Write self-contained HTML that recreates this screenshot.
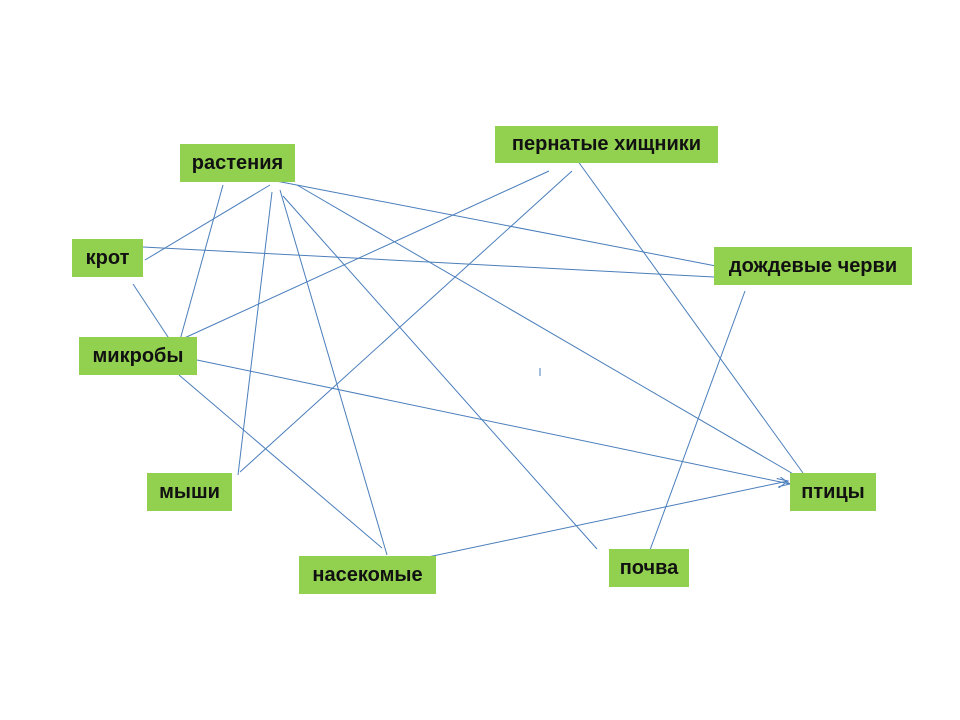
<!DOCTYPE html>
<html><head><meta charset="utf-8"><style>
body{margin:0;background:#fff;width:960px;height:720px;position:relative;overflow:hidden;font-family:"Liberation Sans","DejaVu Sans",sans-serif}
.b{position:absolute;background:#92d050;font-weight:bold;font-size:20px;color:#111;display:flex;align-items:center;justify-content:center;white-space:nowrap}
svg{position:absolute;left:0;top:0}
</style></head><body>
<svg width="960" height="720"><defs><marker id="a" markerWidth="12" markerHeight="10" refX="11" refY="5" orient="auto" markerUnits="userSpaceOnUse"><path d="M0,0 L11,5 L0,10" fill="none" stroke="#4a7ebb" stroke-width="1"/></marker></defs>
<g stroke="#4a7ebb" stroke-width="1" fill="none">
<line x1="276" y1="181" x2="716" y2="266"/>
<line x1="143" y1="247" x2="714" y2="277"/>
<line x1="270" y1="185" x2="145" y2="260"/>
<line x1="223" y1="185" x2="180" y2="340"/>
<line x1="272" y1="192" x2="238" y2="475"/>
<line x1="280" y1="190" x2="387" y2="555"/>
<line x1="283" y1="196" x2="597" y2="549"/>
<line x1="297" y1="185" x2="795" y2="475"/>
<line x1="549" y1="171" x2="180" y2="340"/>
<line x1="572" y1="171" x2="240" y2="472"/>
<line x1="572" y1="153" x2="803" y2="473"/>
<line x1="133" y1="284" x2="170" y2="340"/>
<line x1="197" y1="360" x2="790" y2="484" marker-end="url(#a)"/>
<line x1="179" y1="375" x2="382" y2="548"/>
<line x1="428" y1="557" x2="788" y2="481" marker-end="url(#a)"/>
<line x1="745" y1="291" x2="650" y2="550"/>
<line x1="540" y1="368" x2="540" y2="376"/>
</g></svg>
<div class="b" style="left:180px;top:144px;width:115px;height:38px">растения</div>
<div class="b" style="left:495px;top:126px;width:223px;height:37px">пернатые хищники</div>
<div class="b" style="left:72px;top:239px;width:71px;height:38px">крот</div>
<div class="b" style="left:714px;top:247px;width:198px;height:38px">дождевые черви</div>
<div class="b" style="left:79px;top:337px;width:118px;height:38px">микробы</div>
<div class="b" style="left:147px;top:473px;width:85px;height:38px">мыши</div>
<div class="b" style="left:790px;top:473px;width:86px;height:38px">птицы</div>
<div class="b" style="left:299px;top:556px;width:137px;height:38px">насекомые</div>
<div class="b" style="left:609px;top:549px;width:80px;height:38px">почва</div>
</body></html>
